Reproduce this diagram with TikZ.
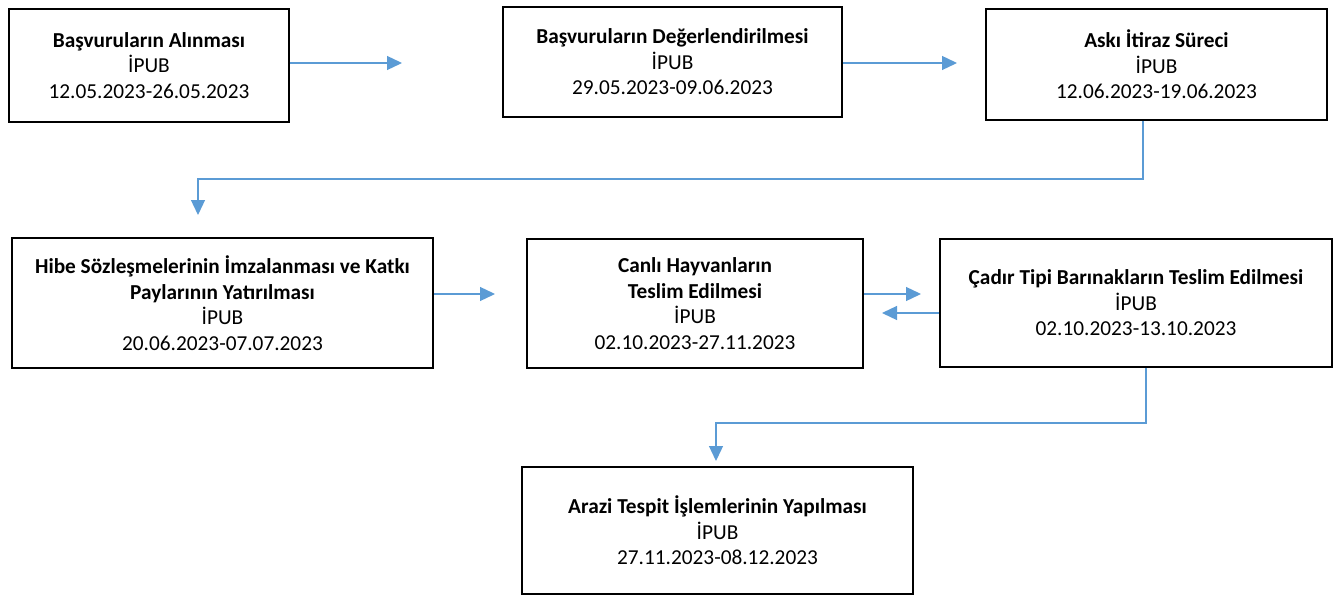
\documentclass[tikz,border=0pt]{standalone}
\usepackage{fontspec}
\setmainfont{Carlito}
\usetikzlibrary{arrows.meta}
\definecolor{conblue}{RGB}{91,155,213}
\begin{document}
\begin{tikzpicture}[x=1bp,y=-1bp,
  box/.style={draw=black,line width=1.8bp,inner sep=0pt,align=center,
    font=\fontsize{21.3bp}{25.5bp}\selectfont},
  conn/.style={draw=conblue,line width=1.3bp,-{Triangle[length=15bp,width=14bp]}}]
\useasboundingbox (0,0) rectangle (1341,596);
\node[box,minimum width=280bp,minimum height=113bp] (b1) at (149,65.5)
  {\textbf{Başvuruların Alınması}\\İPUB\\12.05.2023-26.05.2023};
\node[box,minimum width=339bp,minimum height=110bp] (b2) at (672.5,62)
  {\textbf{Başvuruların Değerlendirilmesi}\\İPUB\\29.05.2023-09.06.2023};
\node[box,minimum width=341bp,minimum height=111bp] (b3) at (1156.5,64.5)
  {\textbf{Askı İtiraz Süreci}\\İPUB\\12.06.2023-19.06.2023};
\node[box,minimum width=421bp,minimum height=130bp] (b4) at (222.5,303)
  {\textbf{Hibe Sözleşmelerinin İmzalanması ve Katkı}\\\textbf{Paylarının Yatırılması}\\İPUB\\20.06.2023-07.07.2023};
\node[box,minimum width=336bp,minimum height=129bp] (b5) at (695,303.5)
  {\textbf{Canlı Hayvanların}\\\textbf{Teslim Edilmesi}\\İPUB\\02.10.2023-27.11.2023};
\node[box,minimum width=392bp,minimum height=128bp] (b6) at (1136,303)
  {\textbf{Çadır Tipi Barınakların Teslim Edilmesi}\\İPUB\\02.10.2023-13.10.2023};
\node[box,minimum width=391bp,minimum height=127bp] (b7) at (717.5,530.5)
  {\textbf{Arazi Tespit İşlemlerinin Yapılması}\\İPUB\\27.11.2023-08.12.2023};
% free ends / bends
\coordinate (a1) at (402,63);
\coordinate (a2) at (957,63);
\coordinate (k1) at (1143,179);
\coordinate (k2) at (198,179);
\coordinate (a3) at (198,215);
\coordinate (a4) at (495,294);
\coordinate (a5) at (921,294);
\coordinate (a6) at (882,313);
\coordinate (k3) at (1146,423);
\coordinate (k4) at (716,423);
\coordinate (a7) at (716,461);
\draw[conn] (b1.east |- a1) -- (a1);
\draw[conn] (b2.east |- a2) -- (a2);
\draw[conn] (b3.south -| k1) -- (k1) -- (k2) -- (a3);
\draw[conn] (b4.east |- a4) -- (a4);
\draw[conn] (b5.east |- a5) -- (a5);
\draw[conn] (b6.west |- a6) -- (a6);
\draw[conn] (b6.south -| k3) -- (k3) -- (k4) -- (a7);
\end{tikzpicture}
\end{document}
